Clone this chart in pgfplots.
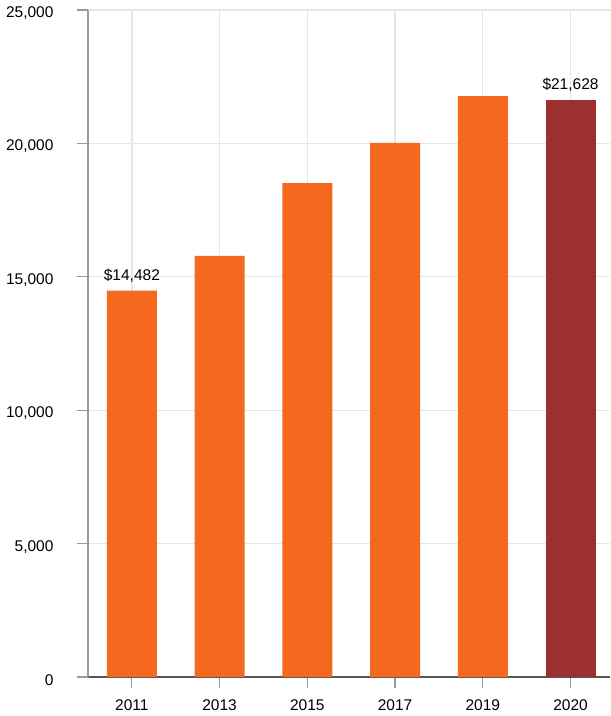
\documentclass[border=0pt]{standalone}
\usepackage{pgfplots}
\pgfplotsset{compat=1.18}
\usepackage{fontspec}
\setmainfont{Liberation Sans}
\definecolor{barorange}{HTML}{F5691E}
\definecolor{barred}{HTML}{9C302E}
\definecolor{gridgray}{HTML}{E6E6E6}
\definecolor{axisgray}{HTML}{999999}
\definecolor{axisdark}{HTML}{555555}
\begin{document}
\begin{tikzpicture}
\begin{axis}[
  name=ax,
  scale only axis,
  width=522pt, height=667pt,
  xmin=-0.5, xmax=5.45,
  ymin=0, ymax=25000,
  xtick={0,1,2,3,4,5},
  xticklabels={2011,2013,2015,2017,2019,2020},
  ytick={0,5000,10000,15000,20000,25000},
  /pgf/number format/assume math mode=true,
  /pgf/number format/1000 sep={,},
  scaled y ticks=false,
  yticklabel={\pgfmathprintnumber[fixed]{\tick}},
  font=\fontsize{15.5}{18}\selectfont,
  tick align=outside,
  major tick length=11pt,
  tick style={axisgray, line width=1.2pt},
  xmajorgrids, ymajorgrids,
  grid style={gridgray, line width=1.3pt},
  axis x line*=bottom,
  axis y line*=left,
  x axis line style={axisdark, line width=1.5pt, -},
  y axis line style={axisgray, line width=1.2pt, -},
  yticklabel style={anchor=east, xshift=-20pt, yshift=-3pt},
  xticklabel style={anchor=base, yshift=-22pt},
  bar width=50pt,
  axis on top=false,
  clip=false,
]
\addplot[ybar, bar shift=0pt, fill=barorange, draw=none] coordinates {
  (0,14482) (1,15780) (2,18510) (3,20020) (4,21770)
};
\addplot[ybar, bar shift=0pt, fill=barred, draw=none] coordinates {
  (5,21628)
};
\addplot[ybar, bar shift=0pt, draw=none, fill=none,
  nodes near coords={\$\pgfmathprintnumber[fixed,1000 sep={,},assume math mode=true]{\pgfplotspointmeta}},
  every node near coord/.append style={anchor=base, yshift=10pt, inner sep=0pt, text=black, font=\fontsize{15.5}{18}\selectfont}
] coordinates {
  (0,14482) (5,21628)
};
\end{axis}
\pgfresetboundingbox
\path ([xshift=-88pt,yshift=-39pt]ax.south west) rectangle ([yshift=10pt]ax.north east);
\end{tikzpicture}
\end{document}
